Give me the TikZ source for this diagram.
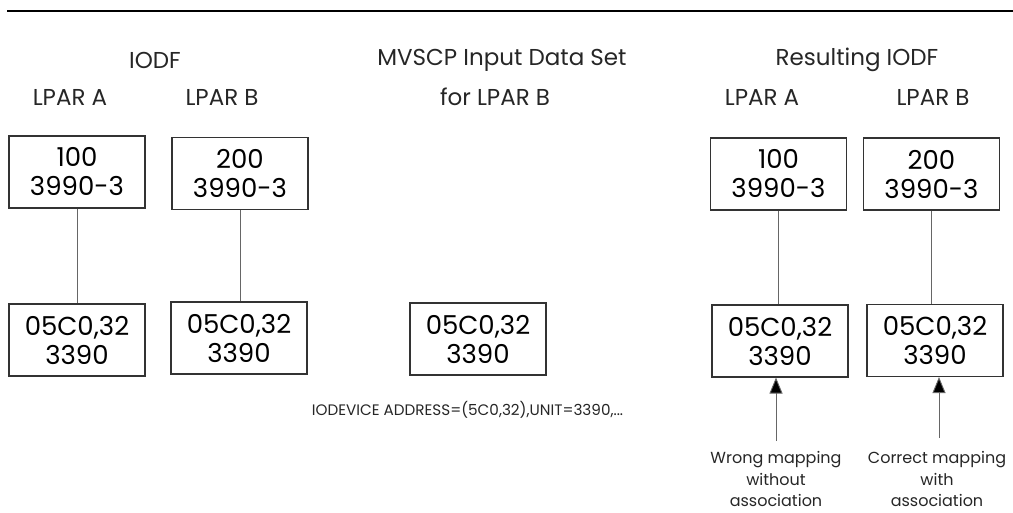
\documentclass[tikz,border=0pt]{standalone}
\usepackage{fontspec}
\setmainfont{Poppins}
\usetikzlibrary{arrows.meta}
\begin{document}
\begin{tikzpicture}[x=1pt,y=-1pt,
  box/.style={draw=black!80,line width=1.1pt,minimum width=136pt,minimum height=72pt,align=center,inner sep=0pt,font=\fontsize{26}{29}\selectfont},
  lbl/.style={font=\fontsize{23}{26}\selectfont,text=black!85},
  note/.style={font=\fontsize{16}{21.5}\selectfont,align=center,text=black!85},
  conn/.style={draw=black!60,line width=0.9pt},
  arr/.style={draw=black!60,line width=0.9pt,-{Triangle[length=16pt,width=13pt,fill=black]}}]
\useasboundingbox (0,0) rectangle (1013,513);
\draw[black,line width=1.2pt] (7,11) -- (1013,11);
% headings
\node[lbl] (h1) at (155,60) {IODF};
\node[lbl] (h2) at (502,60) {MVSCP Input Data Set};
\node[lbl] (h3) at (857,60) {Resulting IODF};
\node[lbl] (la1) at (70,97) {LPAR A};
\node[lbl] (lb1) at (222,97) {LPAR B};
\node[lbl] (lb2) at (495,97) {for LPAR B};
\node[lbl] (la3) at (762,97) {LPAR A};
\node[lbl] (lb3) at (933,97) {LPAR B};
% boxes
\node[box] (b1) at (77,172) {100\\3990-3};
\node[box] (b2) at (240,173.5) {200\\3990-3};
\node[box] (b3) at (77,340) {05C0,32\\3390};
\node[box] (b4) at (239,338) {05C0,32\\3390};
\node[box] (b5) at (478,339) {05C0,32\\3390};
\node[box] (b6) at (778.5,174) {100\\3990-3};
\node[box] (b7) at (931.5,174) {200\\3990-3};
\node[box] (b8) at (780,341) {05C0,32\\3390};
\node[box] (b9) at (935,340.5) {05C0,32\\3390};
% connectors
\draw[conn] (b1.south) -- (b1.south |- b3.north);
\draw[conn] (b2.south) -- (b2.south |- b4.north);
\draw[conn] (b6.south) -- (b6.south |- b8.north);
\draw[conn] (b7.south) -- (b7.south |- b9.north);
% statement
\node[font=\fontsize{15.2}{18}\selectfont,text=black!85] (stmt) at (467.5,410) {IODEVICE ADDRESS=(5C0,32),UNIT=3390,...};
% arrows
\coordinate (c8) at (776,441);
\coordinate (c9) at (939,438);
\draw[arr] (c8) -- (c8 |- b8.south);
\draw[arr] (c9) -- (c9 |- b9.south);
\node[note] (n8) at (776,479) {Wrong mapping\\without\\association};
\node[note] (n9) at (937,479) {Correct mapping\\with\\association};
\end{tikzpicture}
\end{document}
